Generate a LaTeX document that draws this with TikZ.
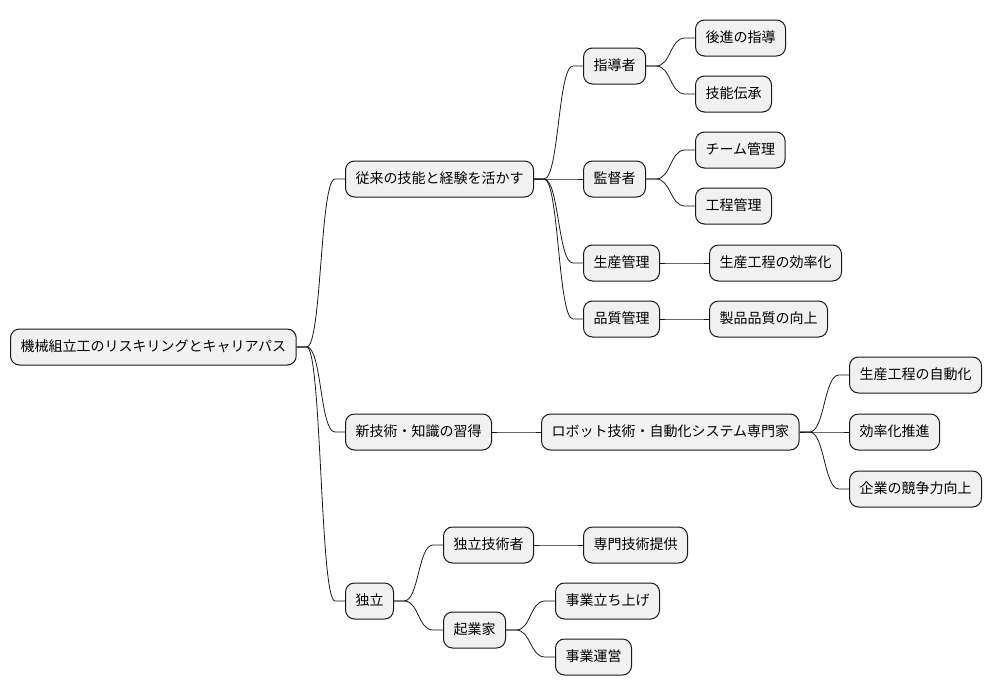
\documentclass[tikz,border=0pt]{standalone}
\usepackage{fontspec}
\newfontfamily\jp{Noto Sans CJK JP}
\definecolor{boxfill}{HTML}{F1F1F1}
\definecolor{boxline}{HTML}{181818}
\begin{document}
\begin{tikzpicture}[x=1pt,y=-1pt,
  box/.style={draw=boxline,fill=boxfill,line width=1pt,rounded corners=9pt,
    minimum height=36pt,inner xsep=10pt,inner ysep=0pt,anchor=west,
    text height=11pt,text depth=3pt,font=\jp\fontsize{14}{17}\selectfont},
  link/.style={draw=boxline,line width=0.8pt}]
  \useasboundingbox (0,0) rectangle (992,696);
  \node[box] (R) at (10,347) {機械組立工のリスキリングとキャリアパス};
  \node[box] (A) at (345,179) {従来の技能と経験を活かす};
  \node[box] (B) at (345,432) {新技術・知識の習得};
  \node[box] (C) at (345,601) {独立};
  \node[box] (A1) at (583,66) {指導者};
  \node[box] (A2) at (583,179) {監督者};
  \node[box] (A3) at (583,263) {生産管理};
  \node[box] (A4) at (583,319) {品質管理};
  \node[box] (A11) at (695,38) {後進の指導};
  \node[box] (A12) at (695,94) {技能伝承};
  \node[box] (A21) at (695,150) {チーム管理};
  \node[box] (A22) at (695,206) {工程管理};
  \node[box] (A31) at (709,263) {生産工程の効率化};
  \node[box] (A41) at (709,319) {製品品質の向上};
  \node[box] (B1) at (541,432) {ロボット技術・自動化システム専門家};
  \node[box] (B11) at (849,375) {生産工程の自動化};
  \node[box] (B12) at (849,432) {効率化推進};
  \node[box] (B13) at (849,489) {企業の競争力向上};
  \node[box] (C1) at (443,545) {独立技術者};
  \node[box] (C11) at (583,545) {専門技術提供};
  \node[box] (C2) at (443,630) {起業家};
  \node[box] (C21) at (555,601) {事業立ち上げ};
  \node[box] (C22) at (555,657) {事業運営};
  \foreach \a/\b in {R/A,R/B,R/C,A/A1,A/A2,A/A3,A/A4,A1/A11,A1/A12,A2/A21,A2/A22,
      A3/A31,A4/A41,B/B1,B1/B11,B1/B12,B1/B13,C/C1,C/C2,C1/C11,C2/C21,C2/C22}
    \draw[link] (\a.east) -- ++(10,0) .. controls +(15,0) and +(-15,0)
      .. ([xshift=-10pt]\b.west) -- (\b.west);
\end{tikzpicture}
\end{document}
